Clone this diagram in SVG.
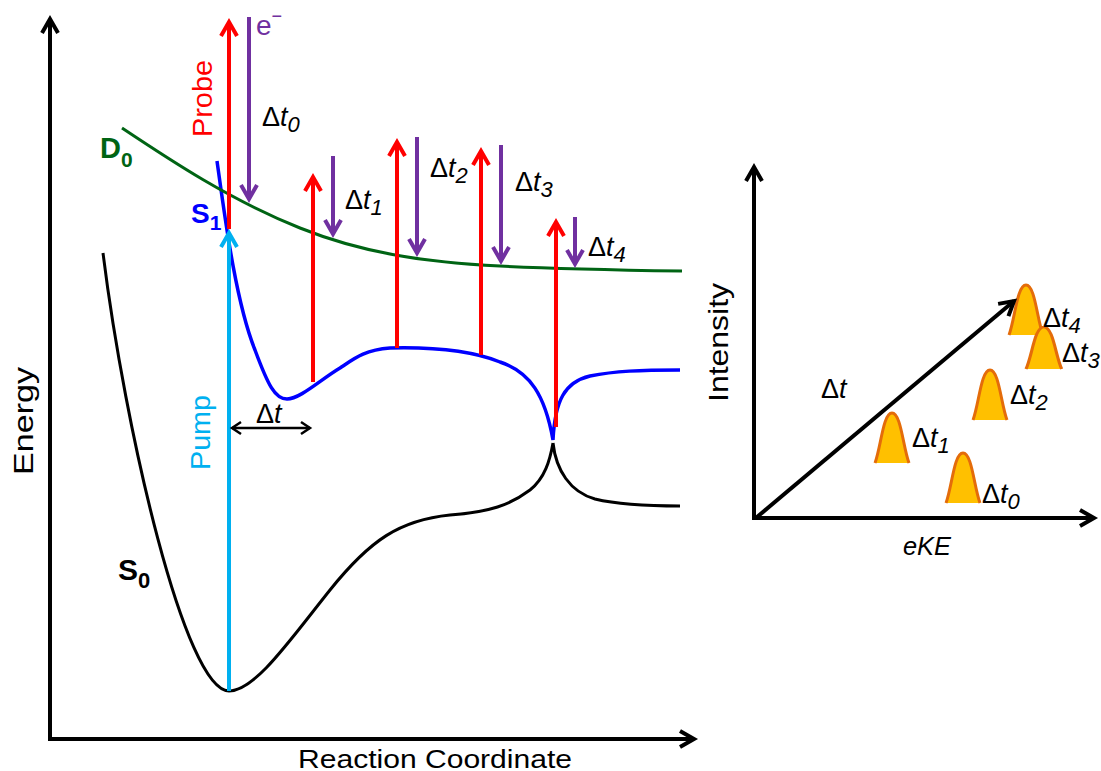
<svg xmlns="http://www.w3.org/2000/svg" xmlns:xlink="http://www.w3.org/1999/xlink" width="1101" height="771" viewBox="0 0 1101 771">
<style>
text{font-family:"Liberation Sans","Noto Sans",Arial,sans-serif;}
.ax{stroke:#000;stroke-width:4;fill:none;}
.lbl{font-size:28px;fill:#000;}
.dt{font-size:27px;fill:#000;}
.it{font-style:italic;}
.sub{font-style:italic;font-size:22px;}
.red{stroke:#FF0000;stroke-width:4;fill:none;}
.pur{stroke:#7030A0;stroke-width:4;fill:none;}
.cy{stroke:#00B0F0;stroke-width:4;fill:none;}
.pf{fill:#FFC000;stroke:none;}
.ps{fill:none;stroke:#E46C0A;stroke-width:3;stroke-linejoin:round;}
</style>
<defs>
<marker id="ahK" markerUnits="userSpaceOnUse" orient="auto" overflow="visible" refX="0" refY="0" markerWidth="20" markerHeight="20"><path d="M-14,-8 L0,0 L-14,8" fill="none" stroke="#000" stroke-width="4"/></marker>
<marker id="ahR" markerUnits="userSpaceOnUse" orient="auto" overflow="visible" refX="0" refY="0" markerWidth="20" markerHeight="20"><path d="M-14,-8 L0,0 L-14,8" fill="none" stroke="#FF0000" stroke-width="4"/></marker>
<marker id="ahP" markerUnits="userSpaceOnUse" orient="auto" overflow="visible" refX="0" refY="0" markerWidth="20" markerHeight="20"><path d="M-14,-8 L0,0 L-14,8" fill="none" stroke="#7030A0" stroke-width="4"/></marker>
<marker id="ahC" markerUnits="userSpaceOnUse" orient="auto" overflow="visible" refX="0" refY="0" markerWidth="20" markerHeight="20"><path d="M-14,-8 L0,0 L-14,8" fill="none" stroke="#00B0F0" stroke-width="4"/></marker>
<marker id="ahS" markerUnits="userSpaceOnUse" orient="auto-start-reverse" overflow="visible" refX="0" refY="0" markerWidth="14" markerHeight="14"><path d="M-9,-6 L0,0 L-9,6" fill="none" stroke="#000" stroke-width="2.5"/></marker>
<g id="peak">
<path class="pf" d="M0,0 C6,-16 8,-50 17,-50 C26,-50 28,-16 34,0 Z"/>
<path class="ps" d="M0,0 C6,-16 8,-50 17,-50 C26,-50 28,-16 34,0"/>
</g>
</defs>

<g id="left-axes">
<path class="ax" d="M50,739 L50,19" marker-end="url(#ahK)"/>
<path class="ax" d="M48,739 L694,739" marker-end="url(#ahK)"/>
<text class="lbl" transform="translate(33,475) rotate(-90)" textLength="108" lengthAdjust="spacingAndGlyphs">Energy</text>
<text class="lbl" x="298" y="768" style="font-size:25px" textLength="274" lengthAdjust="spacingAndGlyphs">Reaction Coordinate</text>
</g>

<g id="curves">
<path id="S0" d="M103,253 C125,430 185,691 229,691 C255,691 290,640 330,590 C370,540 400,520 450,515 C490,512 510,505 530,490 C545,478 550,460 553,443 M553,443 C556,470 570,492 595,499 C620,505 650,506 680,506" fill="none" stroke="#000" stroke-width="3"/>
<path id="S1" d="M217,161 C224,210 235,300 255,350 C268,385 275,399 287,399 C300,399 320,380 340,368 C355,358 365,350 390,348 C430,347 470,350 500,362 C530,372 545,395 553,440 C555,400 565,382 590,376 C615,371 640,370 680,370" fill="none" stroke="#0000FF" stroke-width="3.5"/>
<path id="D0" d="M122,128 C170,160 230,200 300,228 C360,252 420,262 500,266 C560,269 620,270 682,271" fill="none" stroke="#006414" stroke-width="3"/>
</g>

<g id="connectors">
<path class="cy" d="M229,691 L229,233" marker-end="url(#ahC)"/>
<path class="red" d="M229,229 L229,22" marker-end="url(#ahR)"/>
<path class="pur" d="M249,17 L249,199" marker-end="url(#ahP)"/>
<path class="red" d="M313,382 L313,177" marker-end="url(#ahR)"/>
<path class="pur" d="M333,156 L333,234" marker-end="url(#ahP)"/>
<path class="red" d="M397,348 L397,142" marker-end="url(#ahR)"/>
<path class="pur" d="M417,137 L417,253" marker-end="url(#ahP)"/>
<path class="red" d="M481,355 L481,151" marker-end="url(#ahR)"/>
<path class="pur" d="M501,145 L501,261" marker-end="url(#ahP)"/>
<path class="red" d="M556,427 L556,222" marker-end="url(#ahR)"/>
<path class="pur" d="M575,217 L575,264" marker-end="url(#ahP)"/>
<path d="M232,428 L310,428" fill="none" stroke="#000" stroke-width="2.5" marker-start="url(#ahS)" marker-end="url(#ahS)"/>
</g>

<g id="left-labels">
<text transform="translate(212,137) rotate(-90)" style="font-size:28px;fill:#FF0000" textLength="77" lengthAdjust="spacingAndGlyphs">Probe</text>
<text transform="translate(210,470) rotate(-90)" style="font-size:28px;fill:#00B0F0" textLength="75" lengthAdjust="spacingAndGlyphs">Pump</text>
<text x="256" y="35" style="font-size:28px;fill:#7030A0">e<tspan dy="-13" style="font-size:18px">−</tspan></text>
<text x="100" y="158" style="font-size:29px;font-weight:bold;fill:#006414">D<tspan dy="9" style="font-size:21px">0</tspan></text>
<text x="191" y="223" style="font-size:28px;font-weight:bold;fill:#0000FF">S<tspan dy="7" style="font-size:21px">1</tspan></text>
<text x="118" y="580" style="font-size:30px;font-weight:bold;fill:#000">S<tspan dy="8" style="font-size:22px">0</tspan></text>
<text class="dt" x="262" y="126">Δ<tspan class="it">t</tspan><tspan class="sub" dy="6">0</tspan></text>
<text class="dt" x="345" y="209">Δ<tspan class="it">t</tspan><tspan class="sub" dy="6">1</tspan></text>
<text class="dt" x="430" y="177">Δ<tspan class="it">t</tspan><tspan class="sub" dy="6">2</tspan></text>
<text class="dt" x="515" y="191">Δ<tspan class="it">t</tspan><tspan class="sub" dy="6">3</tspan></text>
<text class="dt" x="588" y="256">Δ<tspan class="it">t</tspan><tspan class="sub" dy="6">4</tspan></text>
<text class="dt" x="256" y="423">Δ<tspan class="it">t</tspan></text>
</g>

<g id="right-panel">
<path class="ax" d="M754,518 L754,167" marker-end="url(#ahK)"/>
<path class="ax" d="M752,518 L1094,518" marker-end="url(#ahK)"/>
<text class="lbl" transform="translate(728,402) rotate(-90)" textLength="119" lengthAdjust="spacingAndGlyphs">Intensity</text>
<text class="lbl it" x="903" y="555" style="font-size:26px" textLength="48" lengthAdjust="spacingAndGlyphs">eKE</text>
</g>

<g id="peaks">
<use xlink:href="#peak" transform="translate(1009,335)"/>
<use xlink:href="#peak" transform="translate(1026,369) scale(1.05,0.84)"/>
<use xlink:href="#peak" transform="translate(973,420)"/>
<use xlink:href="#peak" transform="translate(875,463)"/>
<use xlink:href="#peak" transform="translate(946,503)"/>
</g>

<g id="dt-arrow">
<path class="ax" d="M757,517 L1014,301" marker-end="url(#ahK)"/>
<text class="dt" x="821" y="398">Δ<tspan class="it">t</tspan></text>
</g>

<g id="right-labels">
<text class="dt" x="1043" y="327">Δ<tspan class="it">t</tspan><tspan class="sub" dy="6">4</tspan></text>
<text class="dt" x="1062" y="362">Δ<tspan class="it">t</tspan><tspan class="sub" dy="6">3</tspan></text>
<text class="dt" x="1010" y="404">Δ<tspan class="it">t</tspan><tspan class="sub" dy="6">2</tspan></text>
<text class="dt" x="912" y="447">Δ<tspan class="it">t</tspan><tspan class="sub" dy="6">1</tspan></text>
<text class="dt" x="982" y="503">Δ<tspan class="it">t</tspan><tspan class="sub" dy="6">0</tspan></text>
</g>
</svg>
